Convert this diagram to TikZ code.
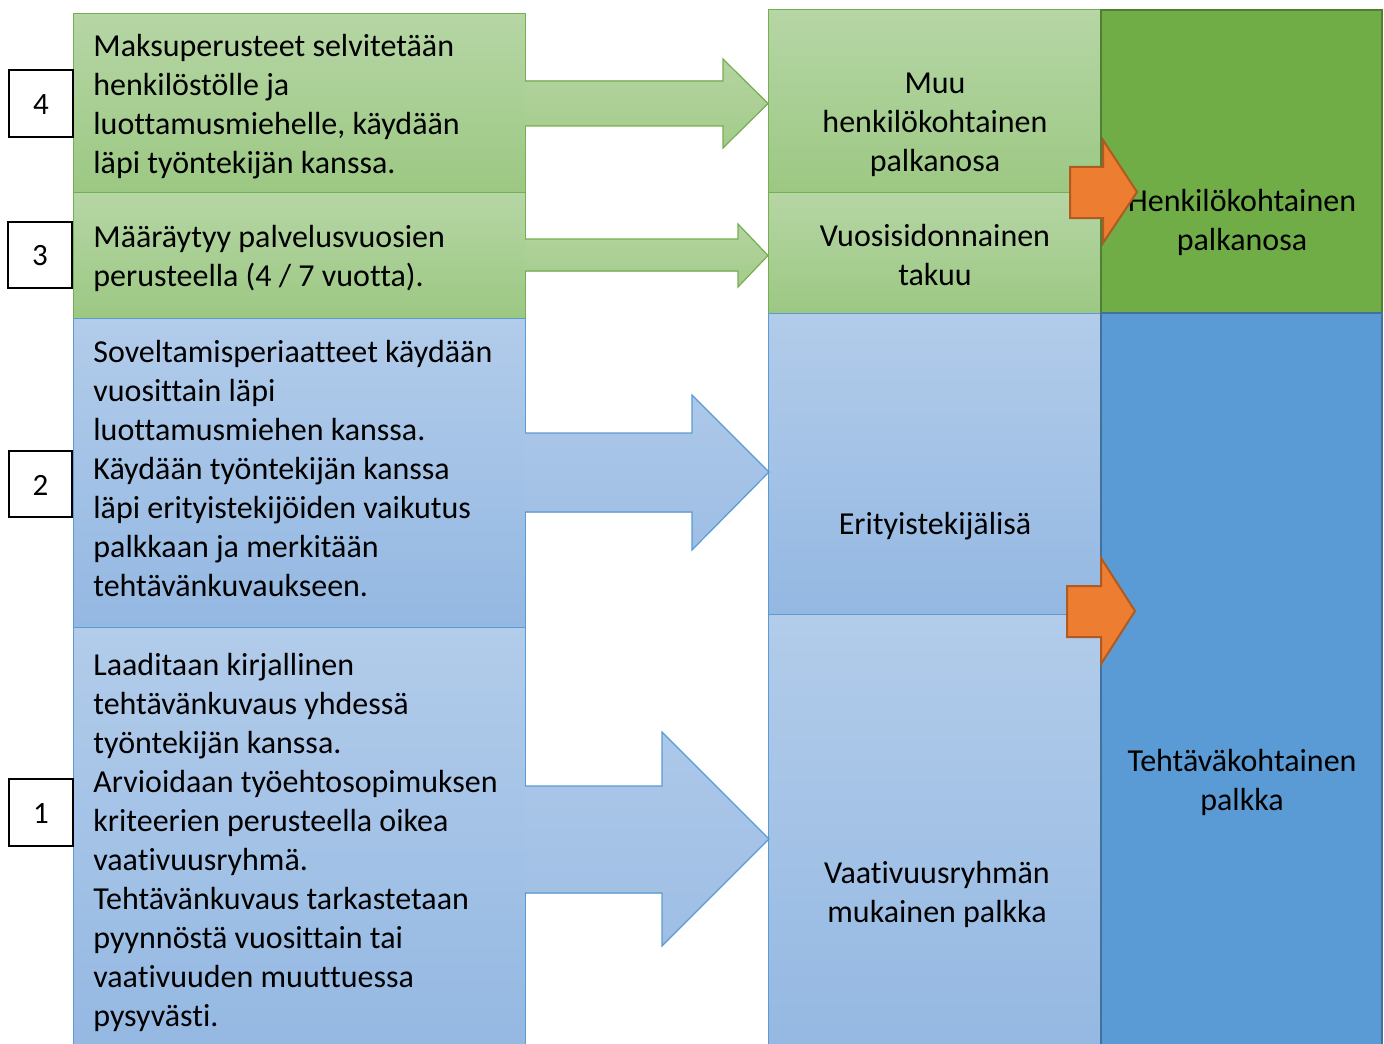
\documentclass[tikz,border=0pt]{standalone}
\usepackage{fontspec}
\setmainfont[Ligatures=NoCommon]{Carlito}
\definecolor{lgtop}{RGB}{182,214,165}
\definecolor{lgbot}{RGB}{156,200,131}
\definecolor{lgline}{RGB}{117,175,80}
\definecolor{gatop}{RGB}{180,212,160}
\definecolor{gabot}{RGB}{164,203,139}
\definecolor{lbtop}{RGB}{178,204,234}
\definecolor{lbbot}{RGB}{148,184,226}
\definecolor{lbline}{RGB}{91,155,213}
\definecolor{batop}{RGB}{172,200,233}
\definecolor{babot}{RGB}{158,190,228}
\definecolor{dkgreen}{RGB}{112,173,71}
\definecolor{dkgreenline}{RGB}{80,126,50}
\definecolor{dkblue}{RGB}{91,155,213}
\definecolor{dkblueline}{RGB}{65,113,156}
\definecolor{orfill}{RGB}{237,125,49}
\definecolor{orline}{RGB}{174,90,33}
\tikzset{
  pbox/.style={rectangle, inner sep=0pt, outer sep=0pt, line width=0.5pt},
  lgbox/.style={pbox, draw=lgline, top color=lgtop, bottom color=lgbot},
  lbbox/.style={pbox, draw=lbline, top color=lbtop, bottom color=lbbot},
  dgbox/.style={pbox, draw=dkgreenline, fill=dkgreen, line width=1.25pt},
  dbbox/.style={pbox, draw=dkblueline, fill=dkblue, line width=1.25pt},
  numbox/.style={rectangle, draw=black, fill=white, line width=1pt, inner sep=0pt},
  ltext/.style={anchor=west, align=left, inner sep=0pt, yshift=-1.3pt, font=\fontsize{16}{19.5}\selectfont},
  ctext/.style={align=center, inner sep=0pt, yshift=-1.3pt, font=\fontsize{16}{19.5}\selectfont},
  ntext/.style={align=center, inner sep=0pt, yshift=-0.5pt, font=\fontsize{15.5}{19.5}\selectfont},
  garrow/.style={line width=0.6pt, draw=lgline},
  barrow/.style={line width=0.6pt, draw=lbline},
  oarrow/.style={line width=1pt, draw=orline, fill=orfill, line join=miter},
}
\newcommand{\mybox}[6]{\node[#2, minimum width={(#5-#3)*0.5pt}, minimum height={(#6-#4)*0.5pt}] (#1) at ({(#3+#5)/2},{(#4+#6)/2}) {};}
\begin{document}
\begin{tikzpicture}[x=0.5pt,y=-0.5pt]
\useasboundingbox (0,0) rectangle (1384,1043);
\clip (0,0) rectangle (1384,1043);
% left boxes
\mybox{b4}{lgbox}{73}{14}{525}{193}
\mybox{b3}{lgbox}{73}{193}{525}{318}
\mybox{b2}{lbbox}{73}{318}{525}{627}
\mybox{b1}{lbbox}{73}{627}{525}{1055}
% middle boxes
\mybox{m4}{lgbox}{768}{10}{1101}{193}
\mybox{m3}{lgbox}{768}{193}{1101}{313}
\mybox{m2}{lbbox}{768}{313}{1101}{614}
\mybox{m1}{lbbox}{768}{614}{1101}{1055}
% right boxes
\mybox{rg}{dgbox}{1101}{10}{1382}{313}
\mybox{rb}{dbbox}{1101}{313}{1382}{1055}
% number boxes
\mybox{n4}{numbox}{9}{70}{73}{137}
\mybox{n3}{numbox}{8}{222}{72}{288}
\mybox{n2}{numbox}{9}{451}{72}{517}
\mybox{n1}{numbox}{9}{779}{73}{846}
\node[ntext] (n4t) at (n4) {4};
\node[ntext] (n3t) at (n3) {3};
\node[ntext] (n2t) at (n2) {2};
\node[ntext] (n1t) at (n1) {1};
% block arrows (green)
\fill[top color=gatop, bottom color=gabot] (525,81) -- (723,81) -- (723,59) -- (768,103.5) -- (723,148) -- (723,126) -- (525,126) -- cycle;
\draw[garrow] (525,81) -- (723,81) -- (723,59) -- (768,103.5) -- (723,148) -- (723,126) -- (525,126);
\fill[top color=gatop, bottom color=gabot] (525,239) -- (738,239) -- (738,224) -- (768,255.5) -- (738,287) -- (738,271) -- (525,271) -- cycle;
\draw[garrow] (525,239) -- (738,239) -- (738,224) -- (768,255.5) -- (738,287) -- (738,271) -- (525,271);
% block arrows (blue)
\fill[top color=batop, bottom color=babot] (525,433) -- (692,433) -- (692,395) -- (769,472) -- (692,550) -- (692,512) -- (525,512) -- cycle;
\draw[barrow] (525,433) -- (692,433) -- (692,395) -- (769,472) -- (692,550) -- (692,512) -- (525,512);
\fill[top color=batop, bottom color=babot] (525,786) -- (662,786) -- (662,732) -- (769,839) -- (662,946) -- (662,893) -- (525,893) -- cycle;
\draw[barrow] (525,786) -- (662,786) -- (662,732) -- (769,839) -- (662,946) -- (662,893) -- (525,893);
% texts left
\node[ltext] (t4) at (93,104) {Maksuperusteet selvitetään\\henkilöstölle ja\\luottamusmiehelle, käydään\\läpi työntekijän kanssa.};
\node[ltext] (t3) at (93,256) {Määräytyy palvelusvuosien\\perusteella (4 / 7 vuotta).};
\node[ltext] (t2) at (93,466) {Soveltamisperiaatteet käydään\\vuosittain läpi\\luottamusmiehen kanssa.\\Käydään työntekijän kanssa\\läpi erityistekijöiden vaikutus\\palkkaan ja merkitään\\tehtävänkuvaukseen.};
\node[ltext] (t1) at (93,840) {Laaditaan kirjallinen\\tehtävänkuvaus yhdessä\\työntekijän kanssa.\\Arvioidaan työehtosopimuksen\\kriteerien perusteella oikea\\vaativuusryhmä.\\Tehtävänkuvaus tarkastetaan\\pyynnöstä vuosittain tai\\vaativuuden muuttuessa\\pysyvästi.};
% texts middle and right
\node[ctext] (tm4) at (935,122) {Muu\\henkilökohtainen\\palkanosa};
\node[ctext] (tm3) at (935,252) {Vuosisidonnainen\\takuu};
\node[ctext] (tm2) at (935,524) {Erityistekijälisä};
\node[ctext] (tm1) at (937,892) {Vaativuusryhmän\\mukainen palkka};
\node[ctext] (trg) at (1242,220) {Henkilökohtainen\\palkanosa};
\node[ctext] (trb) at (1242,780) {Tehtäväkohtainen\\palkka};
% orange arrows
\draw[oarrow] (1070,167) -- (1103,167) -- (1103,140) -- (1137,192) -- (1103,243) -- (1103,218) -- (1070,218) -- cycle;
\draw[oarrow] (1067,586) -- (1101,586) -- (1101,558) -- (1135,611) -- (1101,664) -- (1101,637) -- (1067,637) -- cycle;
\end{tikzpicture}
\end{document}
